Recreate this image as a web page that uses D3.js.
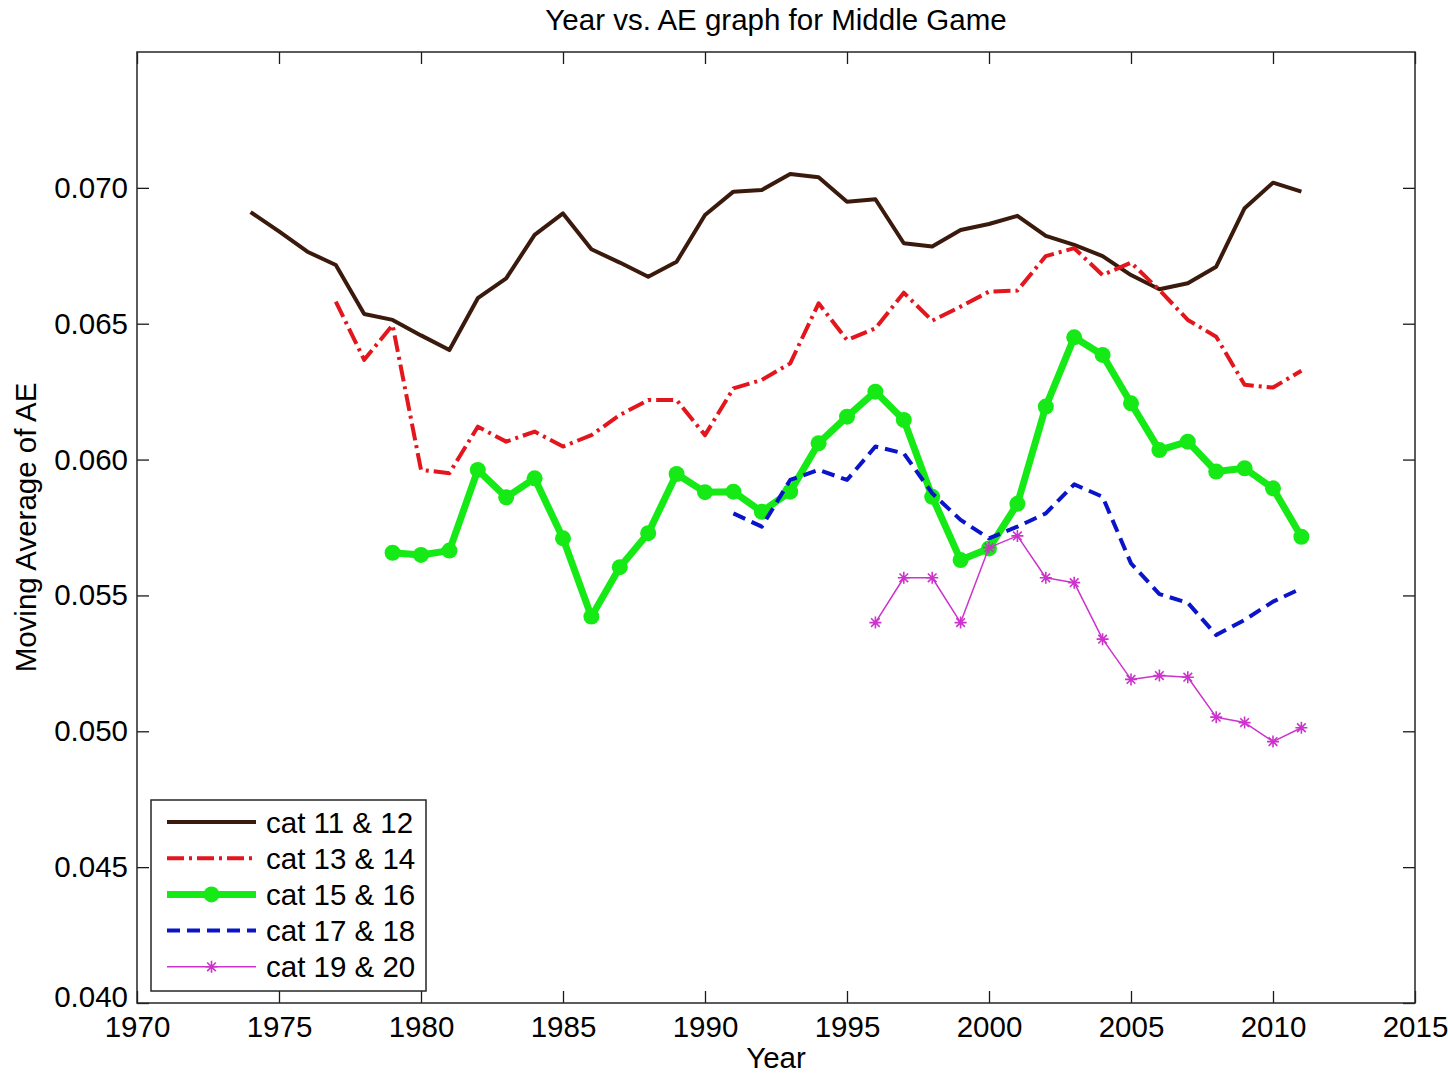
<!DOCTYPE html>
<html>
<head>
<meta charset="utf-8">
<script src="https://cdn.jsdelivr.net/npm/d3@7"></script>
<style>
  html, body { margin: 0; padding: 0; background: #fff; }
  svg { display: block; }
  text { font-family: "Liberation Sans", Arial, Helvetica, sans-serif; fill: #000; }
</style>
</head>
<body>
<svg id="chart" width="1448" height="1075"></svg>
<script>
// Moving average of AE per year, one array per rating category pair
const years1112 = d3.range(1974, 2012);
const ae1112 = [0.06911, 0.06840, 0.06765, 0.06716, 0.06536, 0.06514, 0.06457, 0.06403,
  0.06594, 0.06667, 0.06827, 0.06906, 0.06774, 0.06725, 0.06673, 0.06728, 0.06900,
  0.06986, 0.06992, 0.07051, 0.07039, 0.06949, 0.06958, 0.06796, 0.06784, 0.06845,
  0.06867, 0.06897, 0.06823, 0.06790, 0.06749, 0.06679, 0.06627, 0.06649, 0.06710,
  0.06925, 0.07019, 0.06986];

const years1314 = d3.range(1977, 2012);
const ae1314 = [0.06581, 0.06367, 0.06495, 0.05962, 0.05950, 0.06121, 0.06066, 0.06103,
  0.06048, 0.06090, 0.06164, 0.06219, 0.06219, 0.06090, 0.06262, 0.06293, 0.06354,
  0.06575, 0.06440, 0.06483, 0.06614, 0.06511, 0.06563, 0.06618, 0.06622, 0.06749,
  0.06778, 0.06679, 0.06725, 0.06624, 0.06514, 0.06452, 0.06275, 0.06265, 0.06327];

const years1516 = d3.range(1979, 2012);
const ae1516 = [0.05657, 0.05649, 0.05665, 0.05962, 0.05861, 0.05931, 0.05710, 0.05422,
  0.05604, 0.05729, 0.05947, 0.05880, 0.05882, 0.05808, 0.05882, 0.06060, 0.06158,
  0.06250, 0.06146, 0.05863, 0.05630, 0.05673, 0.05837, 0.06195, 0.06450, 0.06385,
  0.06207, 0.06035, 0.06066, 0.05956, 0.05968, 0.05894, 0.05716];

const years1718 = d3.range(1991, 2012);
const ae1718 = [0.05802, 0.05753, 0.05925, 0.05962, 0.05925, 0.06048, 0.06023, 0.05876,
  0.05778, 0.05710, 0.05753, 0.05802, 0.05909, 0.05863, 0.05618, 0.05505, 0.05473,
  0.05354, 0.05410, 0.05477, 0.05526];

const years1920 = d3.range(1996, 2012);
const ae1920 = [0.05400, 0.05565, 0.05565, 0.05400, 0.05676, 0.05719, 0.05565, 0.05547,
  0.05339, 0.05191, 0.05205, 0.05199, 0.05052, 0.05032, 0.04962, 0.05013];

const seriesNames = ["cat 11 & 12", "cat 13 & 14", "cat 15 & 16", "cat 17 & 18", "cat 19 & 20"];
const xTicks = d3.range(1970, 2016, 5);
const yTicks = [0.040, 0.045, 0.050, 0.055, 0.060, 0.065, 0.070];

const titleText = "Year vs. AE graph for Middle Game";
const xLabelText = "Year";
const yLabelText = "Moving Average of AE";

// Line styles for each series
const styles = [
  { color: "#3a1a0c", width: 4, dash: null, marker: null },
  { color: "#e2161c", width: 4, dash: "17,5,3,5", marker: null },
  { color: "#16ea16", width: 7, dash: null, marker: "circle" },
  { color: "#0a14c8", width: 4, dash: "13,7", marker: null },
  { color: "#cc33cc", width: 1.5, dash: null, marker: "star" }
];

const series = [
  { years: years1112, values: ae1112 },
  { years: years1314, values: ae1314 },
  { years: years1516, values: ae1516 },
  { years: years1718, values: ae1718 },
  { years: years1920, values: ae1920 }
].map((s, i) => ({
  name: seriesNames[i],
  style: styles[i],
  points: s.years.map((yr, j) => ({ year: yr, value: s.values[j] }))
}));

const svg = d3.select("#chart");
const plotLeft = 137, plotRight = 1415, plotTop = 52, plotBottom = 1003;
const fontSize = 29.5;

const x = d3.scaleLinear().domain([1970, 2015]).range([plotLeft, plotRight]);
const y = d3.scaleLinear().domain([0.040, 0.075]).range([plotBottom, plotTop]);

// Axes with ticks pointing inward on all four sides
const tickLen = 12;
const fmt = d3.format(".3f");

const gx = svg.append("g").attr("transform", `translate(0,${plotBottom})`)
  .call(d3.axisBottom(x).tickValues(xTicks).tickFormat(d3.format("d"))
    .tickSizeInner(-tickLen).tickSizeOuter(0).tickPadding(13));
const gxTop = svg.append("g").attr("transform", `translate(0,${plotTop})`)
  .call(d3.axisTop(x).tickValues(xTicks).tickFormat("")
    .tickSizeInner(-tickLen).tickSizeOuter(0));
const gy = svg.append("g").attr("transform", `translate(${plotLeft},0)`)
  .call(d3.axisLeft(y).tickValues(yTicks).tickFormat(fmt)
    .tickSizeInner(-tickLen).tickSizeOuter(0).tickPadding(9));
const gyRight = svg.append("g").attr("transform", `translate(${plotRight},0)`)
  .call(d3.axisRight(y).tickValues(yTicks).tickFormat("")
    .tickSizeInner(-tickLen).tickSizeOuter(0));

[gx, gxTop, gy, gyRight].forEach(g => {
  g.select(".domain").remove();
  g.selectAll(".tick line").attr("stroke", "#1a1a1a").attr("stroke-width", 1.3);
  g.selectAll(".tick text").attr("font-size", fontSize)
    .attr("font-family", '"Liberation Sans", Arial, sans-serif').attr("fill", "#000");
});
gx.selectAll(".tick text").attr("dy", "0.72em");
// the lowest y label sits a little above its tick so it clears the year labels
gy.selectAll(".tick text").filter(d => d === 0.040).attr("dy", "0.12em");

// Frame box
svg.append("rect")
  .attr("x", plotLeft).attr("y", plotTop)
  .attr("width", plotRight - plotLeft).attr("height", plotBottom - plotTop)
  .attr("fill", "none").attr("stroke", "#262626").attr("stroke-width", 1.5);

// Asterisk marker path (plus and cross combined)
function starPath(r) {
  const d = r * 0.72;
  return `M${-r},0L${r},0M0,${-r}L0,${r}M${-d},${-d}L${d},${d}M${-d},${d}L${d},${-d}`;
}

const line = d3.line().x(d => x(d.year)).y(d => y(d.value));

const plot = svg.append("g");
series.forEach(s => {
  const g = plot.append("g");
  g.append("path")
    .datum(s.points)
    .attr("d", line)
    .attr("fill", "none")
    .attr("stroke", s.style.color)
    .attr("stroke-width", s.style.width)
    .attr("stroke-linejoin", "round")
    .attr("stroke-dasharray", s.style.dash);
  if (s.style.marker === "circle") {
    g.selectAll("circle").data(s.points).join("circle")
      .attr("cx", d => x(d.year)).attr("cy", d => y(d.value))
      .attr("r", 8).attr("fill", s.style.color);
  } else if (s.style.marker === "star") {
    g.selectAll("path.mk").data(s.points).join("path").attr("class", "mk")
      .attr("transform", d => `translate(${x(d.year)},${y(d.value)})`)
      .attr("d", starPath(6))
      .attr("stroke", s.style.color).attr("stroke-width", 1.6).attr("fill", "none");
  }
});

// Title and axis labels
svg.append("text").attr("x", (plotLeft + plotRight) / 2).attr("y", 30)
  .attr("text-anchor", "middle").attr("font-size", fontSize).text(titleText);
svg.append("text").attr("x", (plotLeft + plotRight) / 2).attr("y", 1068)
  .attr("text-anchor", "middle").attr("font-size", fontSize).text(xLabelText);
svg.append("text")
  .attr("transform", `translate(36,${(plotTop + plotBottom) / 2}) rotate(-90)`)
  .attr("text-anchor", "middle").attr("font-size", fontSize).text(yLabelText);

// Legend
const lg = svg.append("g");
lg.append("rect").attr("x", 151).attr("y", 800).attr("width", 275).attr("height", 191)
  .attr("fill", "#fff").attr("stroke", "#262626").attr("stroke-width", 1.5);
series.forEach((s, i) => {
  const cy = 822 + i * 36.2;
  lg.append("line").attr("x1", 167).attr("x2", 256).attr("y1", cy).attr("y2", cy)
    .attr("stroke", s.style.color).attr("stroke-width", s.style.width)
    .attr("stroke-dasharray", s.style.dash);
  if (s.style.marker === "circle") {
    lg.append("circle").attr("cx", 211.5).attr("cy", cy).attr("r", 8).attr("fill", s.style.color);
  } else if (s.style.marker === "star") {
    lg.append("path").attr("transform", `translate(211.5,${cy})`).attr("d", starPath(6))
      .attr("stroke", s.style.color).attr("stroke-width", 1.6).attr("fill", "none");
  }
  lg.append("text").attr("x", 266).attr("y", cy).attr("dy", "0.36em")
    .attr("font-size", fontSize).text(s.name);
});
</script>
</body>
</html>
